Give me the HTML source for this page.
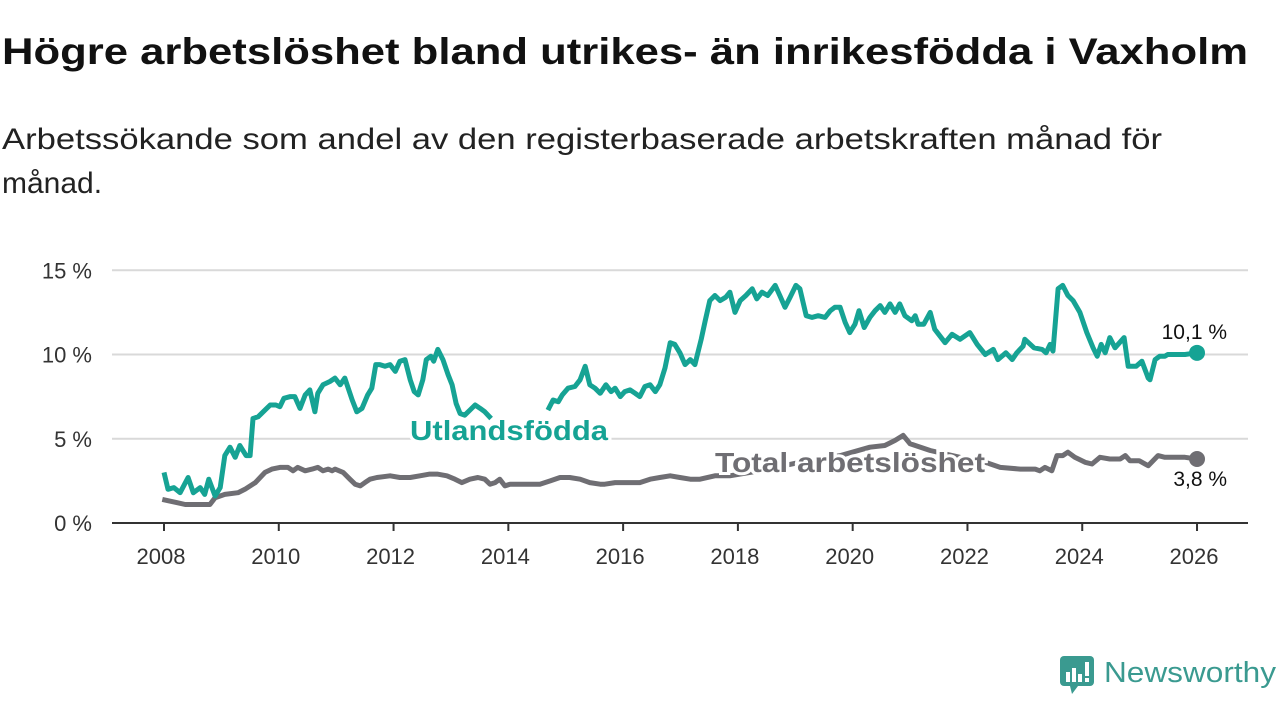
<!DOCTYPE html>
<html><head><meta charset="utf-8"><style>
html,body{margin:0;padding:0;background:#fff;width:1280px;height:720px;overflow:hidden}
svg text{font-family:"Liberation Sans",sans-serif}
</style></head><body>
<svg id="chart" width="1280" height="720" viewBox="0 0 1280 720" xmlns="http://www.w3.org/2000/svg">
<text x="2" y="64" font-size="37" font-weight="bold" fill="#111" textLength="1246" lengthAdjust="spacingAndGlyphs">Högre arbetslöshet bland utrikes- än inrikesfödda i Vaxholm</text>
<text x="2" y="149" font-size="30" fill="#222" textLength="1160" lengthAdjust="spacingAndGlyphs">Arbetssökande som andel av den registerbaserade arbetskraften månad för</text>
<text x="2" y="193" font-size="30" fill="#222">månad.</text>
<g id="grid"></g><g id="axes"></g><g id="series"></g><g id="labels"></g>
<g>
<rect x="1060" y="656" width="34" height="30" rx="4" fill="#3a9a90"/>
<polygon points="1070,686 1078,686 1072,694" fill="#3a9a90"/>
<rect x="1066" y="672" width="4" height="10" fill="#fff"/><rect x="1072" y="668" width="4" height="14" fill="#fff"/><rect x="1078" y="674" width="4" height="8" fill="#fff"/><rect x="1085" y="662" width="4" height="14" fill="#fff"/><rect x="1085" y="678" width="4" height="4" fill="#fff"/>
<text x="1104" y="682" font-size="29" fill="#3a9a90" textLength="172" lengthAdjust="spacingAndGlyphs">Newsworthy</text>
</g>
</svg>
<script>
const yTicks=[0,5,10,15];
const xTicks=[2008,2010,2012,2014,2016,2018,2020,2022,2024,2026];
const utlYears=[2008.0,2008.07,2008.17,2008.28,2008.42,2008.51,2008.63,2008.71,2008.78,2008.89,2008.98,2009.06,2009.15,2009.24,2009.32,2009.43,2009.5,2009.55,2009.64,2009.76,2009.85,2009.95,2010.02,2010.09,2010.2,2010.28,2010.37,2010.46,2010.54,2010.63,2010.68,2010.77,2010.89,2010.98,2011.07,2011.15,2011.28,2011.36,2011.45,2011.55,2011.62,2011.69,2011.76,2011.85,2011.94,2012.03,2012.11,2012.2,2012.29,2012.36,2012.43,2012.51,2012.57,2012.65,2012.7,2012.77,2012.86,2012.95,2013.02,2013.09,2013.16,2013.24,2013.33,2013.42,2013.51,2013.59,2013.7,
2014.69,2014.78,2014.87,2014.94,2015.04,2015.16,2015.25,2015.34,2015.42,2015.51,2015.6,2015.7,2015.79,2015.86,2015.95,2016.03,2016.12,2016.21,2016.29,2016.38,2016.47,2016.56,2016.64,2016.73,2016.82,2016.9,2016.99,2017.08,2017.17,2017.25,2017.36,2017.43,2017.51,2017.6,2017.69,2017.79,2017.86,2017.95,2018.04,2018.14,2018.25,2018.33,2018.42,2018.52,2018.65,2018.73,2018.82,2018.91,2019.01,2019.08,2019.19,2019.29,2019.4,2019.52,2019.61,2019.69,2019.78,2019.87,2019.95,2020.04,2020.11,2020.2,2020.3,2020.39,2020.48,2020.56,2020.65,2020.74,2020.82,2020.91,2021.03,2021.09,2021.14,2021.24,2021.35,2021.43,2021.61,2021.73,2021.87,2022.04,2022.17,2022.31,2022.45,2022.53,2022.67,2022.78,2022.86,2022.97,2023.0,2023.16,2023.3,2023.37,2023.44,2023.49,2023.58,2023.66,2023.75,2023.84,2023.96,2024.08,2024.19,2024.26,2024.33,2024.4,2024.48,2024.57,2024.73,2024.8,2024.94,2025.04,2025.15,2025.18,2025.27,2025.35,2025.44,2025.49,2025.62,2025.79,2026.0];
const utlValues=[3.0,2.0,2.1,1.8,2.7,1.8,2.1,1.7,2.6,1.6,2.1,4.0,4.5,3.9,4.6,4.0,4.0,6.2,6.3,6.7,7.0,7.0,6.9,7.4,7.5,7.5,6.8,7.6,7.9,6.6,7.7,8.2,8.4,8.6,8.2,8.6,7.3,6.6,6.8,7.6,8.0,9.4,9.4,9.3,9.4,9.0,9.6,9.7,8.5,7.8,7.6,8.5,9.7,9.9,9.6,10.3,9.7,8.8,8.2,7.1,6.5,6.4,6.7,7.0,6.8,6.6,6.2,
6.7,7.3,7.2,7.6,8.0,8.1,8.5,9.3,8.2,8.0,7.7,8.2,7.8,8.0,7.5,7.8,7.9,7.7,7.5,8.1,8.2,7.8,8.2,9.2,10.7,10.6,10.1,9.4,9.7,9.4,10.9,12.0,13.2,13.5,13.2,13.4,13.7,12.5,13.2,13.5,13.9,13.3,13.7,13.5,14.1,13.5,12.8,13.4,14.1,13.9,12.3,12.2,12.3,12.2,12.6,12.8,12.8,11.9,11.3,11.8,12.6,11.6,12.2,12.6,12.9,12.5,13.0,12.5,13.0,12.3,12.0,12.3,11.8,11.8,12.5,11.5,10.7,11.2,10.9,11.3,10.6,10.0,10.3,9.7,10.1,9.7,10.1,10.5,10.9,10.4,10.3,10.1,10.6,10.2,13.9,14.1,13.5,13.2,12.5,11.3,10.4,9.9,10.6,10.1,11.0,10.4,11.0,9.3,9.3,9.6,8.6,8.5,9.7,9.9,9.9,10.0,10.0,10.0,10.1];
const totYears=[2007.97,2008.1,2008.24,2008.37,2008.45,2008.59,2008.8,2008.89,2009.06,2009.29,2009.41,2009.59,2009.76,2009.88,2010.02,2010.16,2010.25,2010.33,2010.46,2010.58,2010.68,2010.77,2010.86,2010.93,2010.98,2011.12,2011.24,2011.33,2011.42,2011.5,2011.59,2011.71,2011.94,2012.11,2012.29,2012.46,2012.63,2012.76,2012.93,2013.07,2013.19,2013.33,2013.47,2013.59,2013.68,2013.77,2013.85,2013.94,2014.03,2014.12,2014.29,2014.55,2014.73,2014.9,2015.07,2015.25,2015.42,2015.6,2015.68,2015.86,2016.12,2016.29,2016.47,2016.64,2016.82,2016.99,2017.17,2017.34,2017.6,2017.86,2018.38,2019.08,2019.78,2020.3,2020.56,2020.74,2020.88,2021.0,2021.35,2021.87,2022.31,2022.57,2022.92,2023.18,2023.26,2023.35,2023.47,2023.56,2023.66,2023.75,2023.87,2024.05,2024.17,2024.31,2024.48,2024.66,2024.75,2024.83,2024.99,2025.15,2025.32,2025.44,2025.62,2025.79,2026.0];
const totValues=[1.4,1.3,1.2,1.1,1.1,1.1,1.1,1.5,1.7,1.8,2.0,2.4,3.0,3.2,3.3,3.3,3.1,3.3,3.1,3.2,3.3,3.1,3.2,3.1,3.2,3.0,2.6,2.3,2.2,2.4,2.6,2.7,2.8,2.7,2.7,2.8,2.9,2.9,2.8,2.6,2.4,2.6,2.7,2.6,2.3,2.4,2.6,2.2,2.3,2.3,2.3,2.3,2.5,2.7,2.7,2.6,2.4,2.3,2.3,2.4,2.4,2.4,2.6,2.7,2.8,2.7,2.6,2.6,2.8,2.8,3.1,3.6,4.0,4.5,4.6,4.9,5.2,4.7,4.3,3.9,3.6,3.3,3.2,3.2,3.1,3.3,3.1,4.0,4.0,4.2,3.9,3.6,3.5,3.9,3.8,3.8,4.0,3.7,3.7,3.4,4.0,3.9,3.9,3.9,3.8];

const NS="http://www.w3.org/2000/svg";
const X0=112,X1=1248,Y0=523;
const xs=y=>164+(y-2008)*57.39;
const ys=v=>Y0-v*16.85;
function mk(tag,attrs,parent){const e=document.createElementNS(NS,tag);for(const k in attrs)e.setAttribute(k,attrs[k]);parent.appendChild(e);return e;}
const grid=document.getElementById('grid'),axes=document.getElementById('axes'),series=document.getElementById('series'),labels=document.getElementById('labels');
yTicks.forEach(t=>{
  if(t>0){const l=mk('line',{x1:X0,x2:X1,y1:ys(t),y2:ys(t),stroke:'#d9d9d9','stroke-width':2},grid);
  
  }
  const tx=mk('text',{x:92,y:ys(t)+8,'font-size':22,fill:'#333','text-anchor':'end'},axes);tx.textContent=t+' %';
  
  
});
const ax=mk('line',{x1:X0,x2:X1,y1:Y0,y2:Y0,stroke:'#333','stroke-width':2},axes);


xTicks.forEach(t=>{
  const tk=mk('line',{x1:xs(t),x2:xs(t),y1:Y0,y2:Y0+8,stroke:'#333','stroke-width':2},axes);
  
  
  const tx=mk('text',{x:xs(t)-3,y:564,'font-size':22,fill:'#333','text-anchor':'middle'},axes);tx.textContent=t;
  
  
});
function pathFor(yrs,vals){let d='';for(let i=0;i<yrs.length;i++){const gap=i>0&&yrs[i]-yrs[i-1]>0.9;d+=(i===0||gap?'M':'L')+xs(yrs[i]).toFixed(1)+','+ys(vals[i]).toFixed(1);}return d;}
const tot=mk('path',{d:pathFor(totYears,totValues),fill:'none',stroke:'#6f6e73','stroke-width':5,'stroke-linejoin':'round'},series);


const utl=mk('path',{d:pathFor(utlYears,utlValues),fill:'none',stroke:'#16a394','stroke-width':5,'stroke-linejoin':'round'},series);


const lu=utlYears.length-1,lt=totYears.length-1;
const d1=mk('circle',{cx:xs(utlYears[lu]),cy:ys(utlValues[lu]),r:8,fill:'#16a394'},series);


const d2=mk('circle',{cx:xs(totYears[lt]),cy:ys(totValues[lt]),r:8,fill:'#6f6e73'},series);


const v1=mk('text',{x:xs(utlYears[lu])+30,y:ys(utlValues[lu])-14,'font-size':21,fill:'#111','text-anchor':'end'},labels);v1.textContent=utlValues[lu].toFixed(1).replace('.',',')+' %';


const v2=mk('text',{x:xs(totYears[lt])+30,y:ys(totValues[lt])+27,'font-size':21,fill:'#111','text-anchor':'end'},labels);v2.textContent=totValues[lt].toFixed(1).replace('.',',')+' %';


const s1=mk('text',{x:410,y:440,'font-size':28,'font-weight':'bold',fill:'#16a394',stroke:'#fff','stroke-width':6,'paint-order':'stroke',textLength:198,lengthAdjust:'spacingAndGlyphs'},labels);s1.textContent='Utlandsfödda';


const s2=mk('text',{x:715,y:472,'font-size':28,'font-weight':'bold',fill:'#6f6e73',stroke:'#fff','stroke-width':6,'paint-order':'stroke',textLength:270,lengthAdjust:'spacingAndGlyphs'},labels);s2.textContent='Total arbetslöshet';


</script>
</body></html>
